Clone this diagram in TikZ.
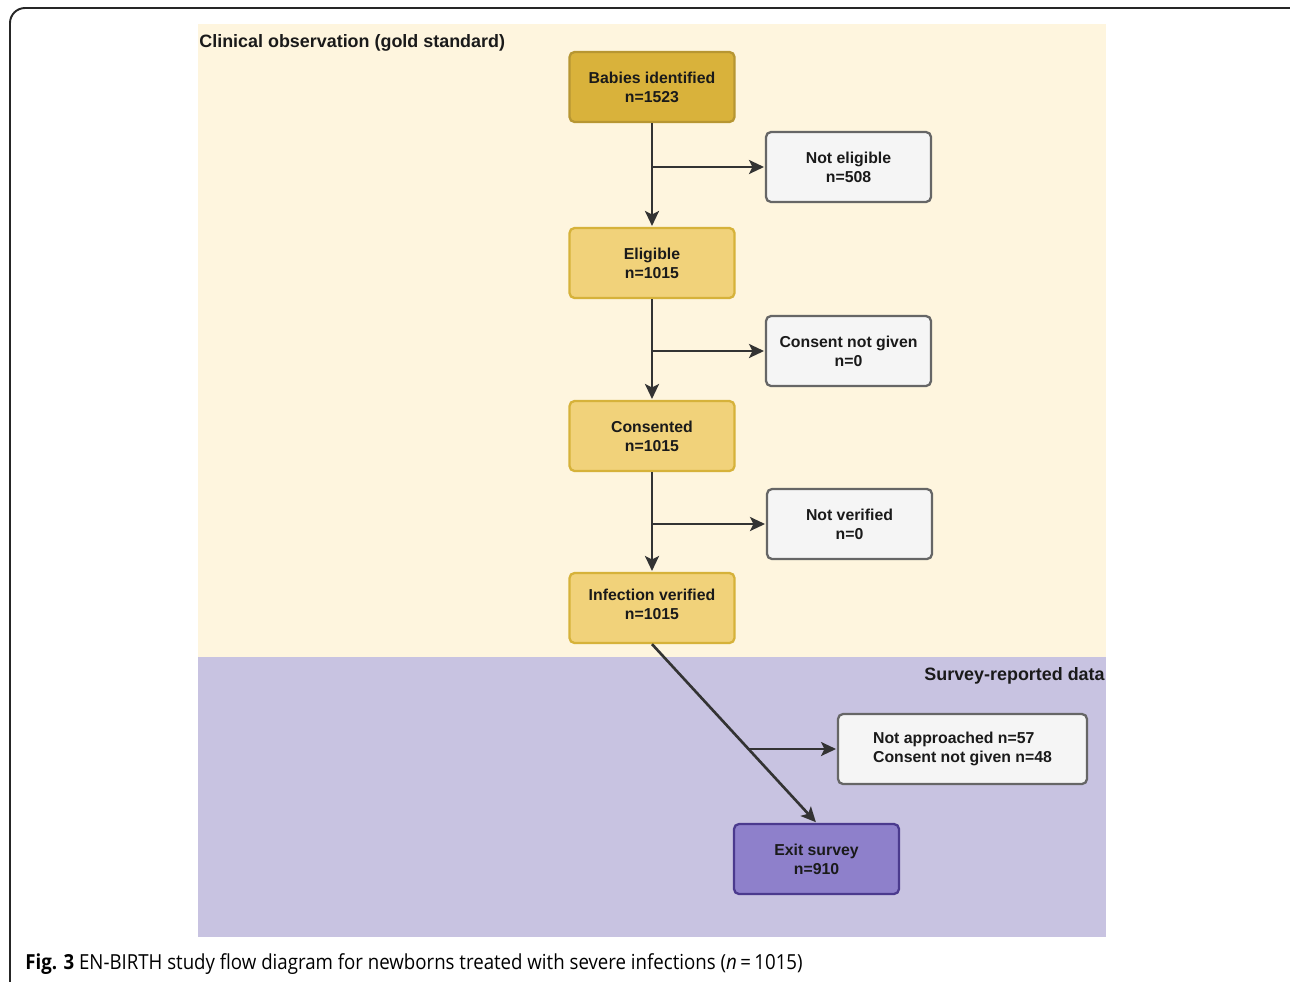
\documentclass[tikz,border=0pt]{standalone}
\usepackage{fontspec}
\setmainfont{Liberation Sans}
\newfontfamily\capfont[FakeStretch=0.9]{Open Sans}
\usetikzlibrary{arrows.meta}
\definecolor{obsback}{RGB}{254,245,222}
\definecolor{survback}{RGB}{200,195,225}
\definecolor{goldfill}{RGB}{217,178,59}
\definecolor{golddraw}{RGB}{183,150,50}
\definecolor{lightfill}{RGB}{241,210,122}
\definecolor{lightdraw}{RGB}{214,178,58}
\definecolor{greyfill}{RGB}{245,245,245}
\definecolor{greydraw}{RGB}{102,102,102}
\definecolor{purpfill}{RGB}{142,128,203}
\definecolor{purpdraw}{RGB}{75,58,142}
\definecolor{flowline}{RGB}{51,51,51}
\definecolor{boxtext}{RGB}{26,26,26}
\begin{document}
\begin{tikzpicture}[x = 0.02cm, y = -0.02cm,
  box/.style = {draw, rounded corners = 1mm, line width = 1.3pt, minimum width = 3.3cm, minimum height = 1.4cm, align = center, text = boxtext, font = \fontsize{9}{10.8}\selectfont\bfseries},
  gold/.style = {box, fill = goldfill, draw = golddraw},
  light/.style = {box, fill = lightfill, draw = lightdraw},
  grey/.style = {box, fill = greyfill, draw = greydraw},
  purp/.style = {box, fill = purpfill, draw = purpdraw},
  flow/.style = {draw = flowline, line width = 1.5pt, shorten > = 0.5pt, -{Stealth[length = 3mm, width = 2.8mm, inset = 0.7mm]}},
  region/.style = {font = \fontsize{10.2}{12}\selectfont\bfseries, text = boxtext, inner sep = 0pt}]
\useasboundingbox (0,0) rectangle (1290,981);
\clip (0,0) rectangle (1290,981);
\fill [white] (0,0) rectangle (1290,981);
\draw [line width = 1.1pt, rounded corners = 0.3cm, draw = black!85] (10,1010) -- (10,8) -- (1320,8);
\fill [obsback] (198,24) rectangle (1106,657);
\fill [survback] (198,657) rectangle (1106,937);
\node [region, anchor = west] (obslabel) at (199,43) {Clinical observation (gold standard)};
\node [region, anchor = east] (survlabel) at (1105,676) {Survey-reported data};
\node [gold] (babies) at (652,87) {Babies identified\\n=1523};
\node [grey] (noteligible) at (848.5,167) {Not eligible\\n=508};
\node [light] (eligible) at (652,263) {Eligible\\n=1015};
\node [grey] (noconsent) at (848.5,351) {Consent not given\\n=0};
\node [light] (consented) at (652,436) {Consented\\n=1015};
\node [grey] (notverified) at (849.5,524) {Not verified\\n=0};
\node [light] (verified) at (652,608) {Infection verified\\n=1015\vspace{4pt}};
\node [grey, minimum width = 4.98cm, align = left] (notapproached) at (962.5,749) {Not approached n=57\\Consent not given n=48};
\node [purp] (exit) at (816.5,859) {Exit survey\\n=910};
\foreach \a/\b/\c in {babies/eligible/noteligible, eligible/consented/noconsent, consented/verified/notverified} {
  \draw [flow] (\a) -- (\b);
  \coordinate (\c-in) at (\a.south |- \c.west);
  \draw [flow] (\c-in) -- (\c);
}
\draw [flow] (verified.south) -- (exit.north);
\coordinate (notapproached-in) at (748,749);
\draw [flow] (notapproached-in) -- (notapproached);
\node [anchor = base west, inner sep = 0pt, font = \capfont\fontsize{11.8}{14}\selectfont] (caption) at (25,969) {\textbf{Fig. 3} EN-BIRTH study flow diagram for newborns treated with severe infections (\textit{n}\,=\,1015)};
\end{tikzpicture}
\end{document}
